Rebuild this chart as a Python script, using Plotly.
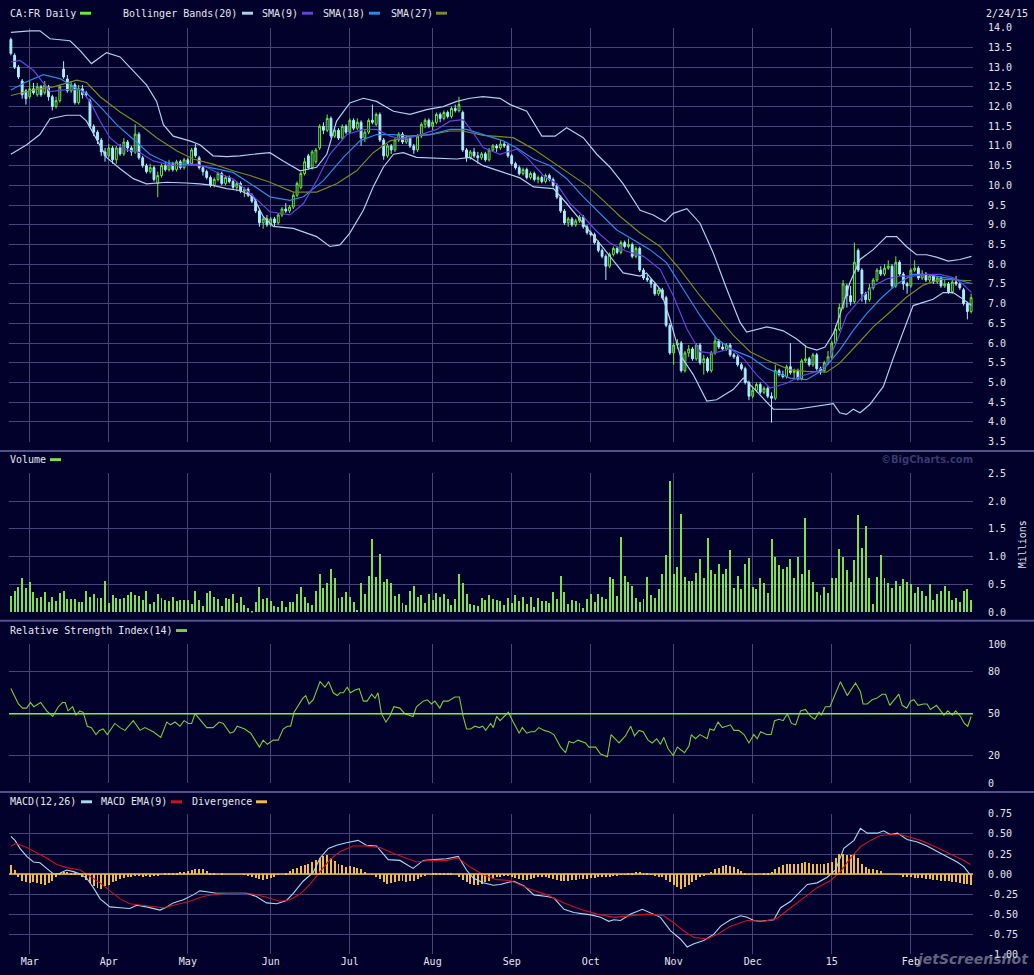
import plotly.graph_objects as go

# CA:FR (Carrefour) daily prices, 24 Feb 2014 - 24 Feb 2015, one entry per trading day
opens = [
    13.70, 13.30, 13.00, 12.65, 12.40, 12.25, 12.45, 12.30, 12.50, 12.35,
    12.50, 12.25, 12.00, 12.15, 12.95, 12.70, 12.40, 12.55, 12.10, 12.45,
    12.35, 12.15, 11.50, 11.35, 11.15, 10.85, 10.75, 10.95, 10.65, 10.95,
    10.80, 11.10, 10.95, 10.85, 11.30, 10.70, 10.50, 10.35, 10.45, 10.05,
    10.25, 10.50, 10.40, 10.55, 10.40, 10.60, 10.45, 10.65, 10.55, 10.95,
    10.70, 10.45, 10.35, 10.20, 10.00, 10.15, 10.30, 10.05, 10.20, 10.10,
    9.95, 10.05, 9.85, 9.90, 9.75, 9.60, 9.35, 9.05, 9.15, 9.00,
    9.15, 9.05, 9.25, 9.40, 9.35, 9.45, 9.75, 9.95, 10.30, 10.75,
    10.45, 10.60, 10.95, 11.50, 11.40, 11.70, 11.25, 11.40, 11.20, 11.50,
    11.35, 11.65, 11.45, 11.60, 11.20, 11.35, 11.65, 11.55, 11.80, 11.15,
    10.75, 11.00, 10.90, 11.15, 11.30, 11.10, 11.20, 11.00, 10.90, 11.25,
    11.55, 11.65, 11.50, 11.60, 11.80, 11.70, 11.85, 11.75, 11.95, 11.90,
    11.85, 10.90, 10.70, 10.85, 10.75, 10.70, 10.80, 10.65, 10.90, 11.00,
    10.95, 11.05, 11.00, 10.75, 10.55, 10.45, 10.30, 10.40, 10.20, 10.30,
    10.15, 10.20, 10.10, 10.25, 10.15, 10.00, 9.70, 9.35, 9.05, 9.15,
    9.00, 9.10, 9.20, 8.95, 8.80, 8.75, 8.55, 8.35, 8.20, 7.95,
    8.25, 8.40, 8.30, 8.55, 8.45, 8.50, 8.20, 8.40, 7.85, 7.65,
    7.60, 7.50, 7.25, 7.35, 7.15, 6.45, 5.75, 5.95, 6.00, 5.30,
    5.75, 5.85, 5.60, 5.95, 5.50, 5.60, 5.30, 5.75, 6.05, 5.90,
    5.85, 5.95, 5.70, 5.65, 5.45, 5.35, 5.00, 4.65, 4.80, 4.95,
    4.75, 4.85, 4.65, 4.60, 5.30, 5.20, 5.15, 5.40, 5.25, 5.30,
    5.10, 5.55, 5.60, 5.45, 5.70, 5.35, 5.30, 5.50, 5.65, 6.00,
    6.35, 6.90, 7.45, 7.20, 7.05, 8.35, 7.85, 7.25, 7.10, 7.40,
    7.60, 7.85, 7.75, 7.90, 7.95, 7.45, 8.05, 7.75, 7.50, 7.45,
    7.85, 7.90, 7.65, 7.75, 7.60, 7.70, 7.55, 7.65, 7.45, 7.50,
    7.30, 7.55, 7.50, 7.35, 7.00, 6.80,
]
highs = [
    13.75, 13.35, 13.05, 12.70, 12.45, 12.65, 12.60, 12.60, 12.55, 12.65,
    12.55, 12.30, 12.25, 12.55, 13.15, 12.80, 12.65, 12.60, 12.55, 12.55,
    12.40, 12.20, 11.55, 11.40, 11.20, 10.95, 11.05, 11.00, 11.00, 11.05,
    11.20, 11.15, 11.00, 11.55, 11.35, 10.75, 10.55, 10.55, 10.50, 10.35,
    10.55, 10.60, 10.65, 10.60, 10.65, 10.65, 10.70, 10.70, 10.95, 11.05,
    10.75, 10.50, 10.40, 10.25, 10.20, 10.35, 10.35, 10.25, 10.25, 10.15,
    10.10, 10.10, 9.95, 9.95, 9.80, 9.65, 9.40, 9.20, 9.25, 9.20,
    9.20, 9.30, 9.45, 9.55, 9.50, 9.80, 10.10, 10.35, 10.70, 10.80,
    10.90, 10.95, 11.55, 11.60, 11.80, 11.75, 11.45, 11.45, 11.55, 11.55,
    11.70, 11.70, 11.70, 11.65, 11.40, 11.70, 12.05, 11.85, 11.85, 11.20,
    11.05, 11.05, 11.20, 11.35, 11.35, 11.25, 11.25, 11.05, 11.30, 11.60,
    11.70, 11.70, 11.65, 11.85, 11.85, 11.90, 11.90, 12.00, 12.05, 12.25,
    11.90, 10.95, 10.90, 10.95, 10.85, 10.85, 10.85, 10.95, 11.05, 11.05,
    11.15, 11.10, 11.05, 10.80, 10.60, 10.50, 10.45, 10.45, 10.35, 10.35,
    10.25, 10.25, 10.30, 10.30, 10.20, 10.05, 9.75, 9.40, 9.20, 9.20,
    9.15, 9.25, 9.25, 9.00, 8.85, 8.80, 8.60, 8.40, 8.25, 8.30,
    8.45, 8.45, 8.60, 8.60, 8.65, 8.55, 8.45, 8.45, 7.90, 7.75,
    7.65, 7.55, 7.40, 7.40, 7.20, 6.50, 6.00, 6.10, 6.05, 5.80,
    5.95, 5.90, 6.00, 6.00, 5.70, 5.65, 5.80, 6.15, 6.10, 6.00,
    6.00, 6.00, 5.75, 5.70, 5.50, 5.40, 5.05, 4.90, 5.00, 5.00,
    4.90, 4.90, 4.75, 5.45, 5.35, 5.30, 5.45, 6.00, 5.35, 5.35,
    5.60, 5.95, 5.65, 5.75, 5.75, 5.40, 5.55, 5.80, 6.05, 6.45,
    7.00, 7.60, 7.50, 7.45, 8.55, 8.40, 7.90, 7.30, 7.50, 7.65,
    7.90, 7.95, 8.00, 8.10, 8.00, 8.20, 8.10, 7.80, 7.55, 7.90,
    8.10, 7.95, 7.85, 7.80, 7.75, 7.75, 7.70, 7.70, 7.60, 7.55,
    7.60, 7.70, 7.55, 7.40, 7.05, 7.25,
]
lows = [
    13.30, 12.95, 12.70, 12.20, 12.05, 12.20, 12.30, 12.25, 12.25, 12.30,
    12.15, 11.90, 11.95, 12.10, 12.70, 12.35, 12.35, 12.05, 12.05, 12.20,
    12.25, 11.45, 11.25, 11.05, 10.75, 10.60, 10.70, 10.55, 10.55, 10.75,
    10.75, 10.85, 10.75, 10.80, 10.65, 10.45, 10.30, 10.30, 10.10, 9.70,
    10.20, 10.35, 10.35, 10.35, 10.35, 10.40, 10.40, 10.50, 10.50, 10.70,
    10.40, 10.25, 10.15, 9.95, 9.95, 10.10, 10.00, 10.00, 10.05, 9.90,
    9.85, 9.80, 9.70, 9.70, 9.55, 9.30, 8.95, 8.90, 8.95, 8.95,
    8.95, 9.00, 9.20, 9.30, 9.30, 9.40, 9.70, 9.90, 10.25, 10.40,
    10.40, 10.55, 10.90, 11.30, 11.35, 11.20, 11.20, 11.15, 11.15, 11.30,
    11.30, 11.40, 11.40, 11.00, 11.10, 11.30, 11.55, 11.50, 11.10, 10.65,
    10.70, 10.80, 10.85, 11.10, 11.05, 11.05, 10.95, 10.80, 10.85, 11.20,
    11.45, 11.45, 11.40, 11.55, 11.60, 11.65, 11.70, 11.70, 11.85, 11.85,
    10.85, 10.60, 10.65, 10.70, 10.55, 10.65, 10.60, 10.60, 10.85, 10.85,
    10.90, 10.95, 10.70, 10.50, 10.40, 10.25, 10.25, 10.15, 10.15, 10.10,
    10.05, 10.05, 10.05, 10.10, 9.95, 9.65, 9.30, 9.00, 8.95, 8.95,
    8.95, 9.05, 8.90, 8.75, 8.70, 8.50, 8.30, 8.15, 7.60, 7.90,
    8.20, 8.25, 8.25, 8.40, 8.40, 8.15, 8.15, 7.80, 7.60, 7.55,
    7.40, 7.20, 7.20, 7.10, 6.40, 5.70, 5.45, 5.85, 5.25, 5.25,
    5.65, 5.55, 5.55, 5.45, 5.20, 5.25, 5.25, 5.70, 5.85, 5.80,
    5.80, 5.65, 5.60, 5.40, 5.30, 4.95, 4.55, 4.60, 4.75, 4.70,
    4.70, 4.60, 3.98, 4.55, 5.15, 5.10, 5.10, 5.20, 5.10, 5.05,
    5.05, 5.50, 5.40, 5.40, 5.30, 5.20, 5.25, 5.45, 5.60, 5.95,
    6.30, 6.85, 6.90, 6.95, 7.00, 7.80, 7.05, 7.00, 7.05, 7.35,
    7.55, 7.70, 7.70, 7.85, 7.40, 7.40, 7.70, 7.35, 7.25, 7.40,
    7.80, 7.60, 7.60, 7.55, 7.55, 7.50, 7.50, 7.40, 7.40, 7.25,
    7.25, 7.45, 7.35, 6.95, 6.60, 6.75,
]
closes = [
    13.35, 13.00, 12.75, 12.30, 12.20, 12.45, 12.35, 12.50, 12.30, 12.55,
    12.25, 12.00, 12.15, 12.50, 12.75, 12.40, 12.55, 12.10, 12.45, 12.30,
    12.30, 11.50, 11.35, 11.15, 10.85, 10.75, 10.95, 10.65, 10.95, 10.80,
    11.10, 10.95, 10.85, 11.30, 10.70, 10.50, 10.35, 10.45, 10.15, 10.25,
    10.50, 10.40, 10.55, 10.40, 10.60, 10.45, 10.65, 10.55, 10.90, 10.75,
    10.45, 10.35, 10.20, 10.00, 10.15, 10.30, 10.05, 10.20, 10.10, 9.95,
    10.05, 9.85, 9.90, 9.75, 9.60, 9.35, 9.05, 9.15, 9.00, 9.15,
    9.05, 9.25, 9.40, 9.35, 9.45, 9.75, 10.05, 10.30, 10.60, 10.45,
    10.85, 10.90, 11.50, 11.40, 11.70, 11.25, 11.40, 11.20, 11.50, 11.35,
    11.65, 11.45, 11.60, 11.20, 11.35, 11.65, 11.60, 11.80, 11.15, 10.75,
    11.00, 10.90, 11.15, 11.30, 11.10, 11.20, 11.00, 10.90, 11.25, 11.55,
    11.65, 11.50, 11.60, 11.80, 11.70, 11.85, 11.75, 11.95, 11.90, 12.05,
    10.90, 10.70, 10.85, 10.75, 10.70, 10.80, 10.65, 10.90, 11.00, 10.95,
    11.05, 11.00, 10.75, 10.55, 10.45, 10.30, 10.40, 10.20, 10.30, 10.15,
    10.20, 10.10, 10.25, 10.15, 10.00, 9.70, 9.35, 9.05, 9.15, 9.00,
    9.10, 9.20, 8.95, 8.80, 8.75, 8.55, 8.35, 8.20, 7.95, 8.25,
    8.40, 8.30, 8.55, 8.45, 8.50, 8.20, 8.40, 7.85, 7.65, 7.60,
    7.50, 7.25, 7.35, 7.15, 6.45, 5.75, 5.95, 6.00, 5.30, 5.75,
    5.85, 5.60, 5.95, 5.50, 5.60, 5.30, 5.75, 6.05, 5.90, 5.85,
    5.95, 5.70, 5.65, 5.45, 5.35, 5.00, 4.65, 4.80, 4.95, 4.75,
    4.85, 4.65, 4.60, 5.30, 5.20, 5.15, 5.40, 5.25, 5.30, 5.10,
    5.55, 5.60, 5.45, 5.70, 5.35, 5.30, 5.50, 5.65, 6.00, 6.35,
    6.90, 7.50, 7.20, 7.05, 8.05, 7.85, 7.25, 7.10, 7.40, 7.60,
    7.85, 7.75, 7.90, 7.95, 7.45, 8.05, 7.75, 7.50, 7.45, 7.85,
    7.90, 7.65, 7.75, 7.60, 7.70, 7.55, 7.65, 7.45, 7.50, 7.30,
    7.55, 7.50, 7.40, 7.00, 6.80, 7.15,
]

# volume in millions of shares
volume_m = [
    0.29, 0.39, 0.45, 0.62, 0.43, 0.55, 0.36, 0.25, 0.28, 0.36,
    0.18, 0.27, 0.20, 0.34, 0.39, 0.24, 0.24, 0.24, 0.18, 0.18,
    0.39, 0.27, 0.32, 0.25, 0.25, 0.57, 0.16, 0.31, 0.25, 0.24,
    0.25, 0.31, 0.36, 0.31, 0.29, 0.22, 0.38, 0.15, 0.18, 0.32,
    0.25, 0.22, 0.20, 0.27, 0.20, 0.22, 0.22, 0.22, 0.15, 0.38,
    0.22, 0.11, 0.34, 0.38, 0.27, 0.24, 0.11, 0.25, 0.24, 0.32,
    0.16, 0.27, 0.13, 0.08, 0.01, 0.18, 0.45, 0.24, 0.25, 0.20,
    0.11, 0.09, 0.20, 0.09, 0.18, 0.18, 0.32, 0.45, 0.27, 0.16,
    0.13, 0.38, 0.68, 0.43, 0.52, 0.78, 0.62, 0.25, 0.27, 0.36,
    0.27, 0.18, 0.04, 0.52, 0.32, 0.66, 1.31, 0.64, 1.05, 0.55,
    0.59, 0.52, 0.29, 0.32, 0.16, 0.13, 0.38, 0.47, 0.27, 0.31,
    0.16, 0.32, 0.22, 0.34, 0.27, 0.32, 0.24, 0.13, 0.24, 0.69,
    0.52, 0.32, 0.15, 0.13, 0.11, 0.25, 0.22, 0.31, 0.24, 0.22,
    0.20, 0.13, 0.25, 0.16, 0.31, 0.20, 0.27, 0.15, 0.27, 0.09,
    0.25, 0.20, 0.20, 0.16, 0.36, 0.24, 0.66, 0.36, 0.15, 0.22,
    0.20, 0.16, 0.08, 0.24, 0.32, 0.18, 0.32, 0.27, 0.24, 0.64,
    0.59, 0.29, 1.35, 0.66, 0.55, 0.47, 0.25, 0.18, 0.24, 0.64,
    0.31, 0.25, 0.41, 0.68, 1.02, 2.36, 0.69, 0.82, 1.77, 0.64,
    0.57, 0.57, 0.71, 0.96, 0.62, 1.33, 0.75, 0.69, 0.87, 0.68,
    0.77, 1.12, 0.43, 0.66, 0.41, 0.87, 0.98, 0.45, 0.41, 0.62,
    0.52, 0.34, 1.31, 1.00, 0.85, 0.78, 0.82, 0.96, 0.62, 1.00,
    0.69, 1.70, 0.75, 0.54, 0.36, 0.31, 0.45, 0.34, 0.61, 0.62,
    1.14, 1.00, 0.75, 0.54, 0.94, 1.74, 1.15, 1.54, 0.62, 0.15,
    0.64, 1.03, 0.62, 0.52, 0.43, 0.57, 0.48, 0.59, 0.55, 0.50,
    0.34, 0.45, 0.38, 0.29, 0.50, 0.22, 0.32, 0.38, 0.48, 0.39,
    0.22, 0.25, 0.18, 0.38, 0.41, 0.22,
]

# MACD divergence histogram, one bar per trading day
divergence = [
    0.11, 0.05, -0.03, -0.08, -0.10, -0.11, -0.10, -0.11, -0.12, -0.13,
    -0.11, -0.08, -0.04, 0.02, 0.03, 0.03, 0.02, 0.01, -0.01, -0.03,
    -0.07, -0.11, -0.15, -0.17, -0.18, -0.15, -0.13, -0.10, -0.08, -0.06,
    -0.05, -0.03, -0.03, -0.02, -0.02, -0.03, -0.02, -0.03, -0.02, -0.02,
    0.00, 0.01, 0.02, 0.02, 0.02, 0.03, 0.03, 0.04, 0.05, 0.06,
    0.07, 0.06, 0.04, 0.02, 0.01, 0.00, 0.01, 0.00, 0.00, 0.00,
    0.00, 0.00, -0.01, -0.02, -0.03, -0.05, -0.06, -0.07, -0.06, -0.05,
    -0.03, -0.01, 0.00, 0.02, 0.04, 0.06, 0.08, 0.10, 0.11, 0.13,
    0.15, 0.18, 0.20, 0.22, 0.24, 0.20, 0.16, 0.13, 0.11, 0.09,
    0.10, 0.09, 0.08, 0.06, 0.03, 0.00, -0.01, -0.03, -0.06, -0.10,
    -0.12, -0.11, -0.10, -0.09, -0.09, -0.10, -0.09, -0.08, -0.06, -0.04,
    -0.02, 0.00, 0.01, 0.01, 0.02, 0.02, 0.02, 0.01, 0.00, -0.03,
    -0.07, -0.10, -0.12, -0.13, -0.13, -0.12, -0.10, -0.08, -0.06, -0.04,
    -0.03, -0.02, -0.02, -0.03, -0.05, -0.06, -0.07, -0.07, -0.06, -0.05,
    -0.04, -0.03, -0.03, -0.05, -0.06, -0.07, -0.08, -0.08, -0.08, -0.07,
    -0.07, -0.06, -0.06, -0.06, -0.05, -0.05, -0.04, -0.04, -0.03, -0.03,
    -0.02, -0.02, -0.01, -0.01, 0.01, 0.02, 0.03, 0.03, 0.02, 0.01,
    -0.01, -0.02, -0.03, -0.04, -0.07, -0.10, -0.13, -0.16, -0.18, -0.16,
    -0.13, -0.10, -0.07, -0.04, -0.02, 0.00, 0.03, 0.06, 0.08, 0.10,
    0.11, 0.10, 0.09, 0.06, 0.04, 0.01, -0.01, 0.00, -0.01, 0.00,
    0.01, 0.02, 0.03, 0.06, 0.09, 0.11, 0.13, 0.13, 0.12, 0.13,
    0.14, 0.15, 0.14, 0.13, 0.12, 0.12, 0.13, 0.14, 0.15, 0.20,
    0.25, 0.25, 0.24, 0.24, 0.25, 0.20, 0.13, 0.09, 0.07, 0.06,
    0.05, 0.04, 0.00, 0.00, 0.00, 0.00, -0.01, -0.03, -0.04, -0.04,
    -0.05, -0.05, -0.05, -0.06, -0.06, -0.07, -0.07, -0.08, -0.08, -0.09,
    -0.10, -0.10, -0.11, -0.12, -0.12, -0.13,
]

# indicator lines: trading-day index and value
bb_upper_day = [0, 5.1, 7.7, 10.4, 15.7, 18.4, 21.4, 23.7, 25.4, 29.0,
                33.4, 36.0, 38.7, 40.5, 43.1, 47.5, 50.2, 53.7, 57.3, 60.8,
                64.4, 68.8, 72.3, 76.8, 81.2, 83.9, 86.5, 90.0, 93.6, 97.1,
                101.6, 106.0, 110.4, 114.8, 118.4, 121.9, 125.4, 129.9, 132.6, 137.0,
                141.0, 144.5, 147.6, 152.0, 155.6, 159.1, 162.6, 167.1, 170.6, 173.7,
                175.9, 179.5, 183.0, 186.5, 190.1, 193.6, 195.4, 200.7, 202.4, 205.1,
                208.6, 211.3, 214.0, 216.2, 218.4, 220.1, 222.8, 225.5, 229.0, 232.5,
                235.2, 237.8, 240.5, 243.2, 245.8, 248.9, 252.0, 255.1]
bb_upper = [13.88, 13.92, 13.92, 13.72, 13.67, 13.42, 13.09, 13.26, 13.37, 13.26,
            12.80, 12.55, 12.13, 11.54, 11.25, 11.13, 11.03, 10.75, 10.73, 10.75,
            10.79, 10.83, 10.62, 10.37, 10.46, 10.79, 11.63, 12.09, 12.21, 12.13,
            11.88, 11.80, 11.92, 12.00, 12.13, 12.21, 12.25, 12.21, 12.05, 11.88,
            11.25, 11.25, 11.46, 11.21, 10.79, 10.46, 10.04, 9.37, 9.25, 9.08,
            9.29, 9.41, 9.04, 8.29, 7.37, 6.53, 6.28, 6.41, 6.38, 6.31,
            6.11, 5.90, 5.82, 5.90, 6.24, 6.70, 7.53, 8.12, 8.37, 8.70,
            8.70, 8.45, 8.24, 8.24, 8.18, 8.08, 8.12, 8.20]

bb_lower_day = [0, 4.2, 7.7, 10.4, 14.8, 18.4, 20.1, 22.8, 25.4, 29.0,
                32.5, 36.0, 39.6, 41.4, 46.6, 50.2, 53.7, 57.3, 60.8, 64.4,
                67.0, 69.7, 75.0, 81.2, 84.7, 87.4, 90.0, 93.6, 96.2, 98.9,
                101.6, 104.2, 107.7, 113.1, 118.4, 121.9, 125.4, 130.8, 135.2, 138.8,
                144.1, 147.6, 152.0, 155.6, 159.1, 162.6, 167.1, 168.8, 172.4, 175.0,
                177.7, 181.2, 184.8, 187.4, 191.8, 194.5, 198.0, 202.5, 208.6, 214.0,
                218.4, 220.1, 221.9, 223.7, 225.5, 228.1, 231.7, 234.3, 237.0, 239.6,
                242.3, 244.9, 247.6, 250.2, 252.9, 255.1]
bb_lower = [10.79, 11.03, 11.29, 11.69, 11.78, 11.78, 11.63, 11.17, 10.71, 10.42,
            10.17, 10.04, 10.06, 10.08, 10.06, 10.04, 10.00, 9.92, 9.87, 9.71,
            9.21, 8.96, 8.91, 8.70, 8.45, 8.49, 8.79, 9.37, 9.96, 10.46,
            10.79, 10.83, 10.71, 10.69, 10.67, 10.71, 10.50, 10.33, 10.19, 9.96,
            9.92, 9.54, 9.04, 8.62, 8.20, 7.78, 7.70, 7.78, 7.37, 6.61,
            5.70, 5.20, 4.53, 4.56, 4.82, 5.11, 4.78, 4.32, 4.32, 4.40,
            4.46, 4.23, 4.19, 4.32, 4.23, 4.44, 4.90, 5.61, 6.32, 6.95,
            7.03, 7.11, 7.28, 7.28, 7.11, 6.95]

sma9_day = [0, 2.4, 6.0, 10.4, 14.8, 18.4, 21.0, 23.7, 26.3, 29.9,
            34.3, 37.8, 41.4, 44.9, 49.3, 52.0, 55.5, 59.0, 63.5, 68.8,
            74.1, 77.7, 81.2, 84.7, 89.2, 93.6, 97.1, 100.7, 104.2, 107.7,
            113.1, 116.6, 120.1, 122.8, 125.4, 129.9, 134.3, 137.0, 141.4, 144.9,
            148.5, 152.0, 155.6, 159.1, 163.5, 168.0, 172.4, 175.9, 179.5, 183.0,
            186.5, 191.0, 194.5, 198.0, 201.6, 206.0, 209.5, 214.0, 216.6, 219.3,
            221.9, 225.5, 229.0, 232.5, 236.1, 239.6, 243.2, 246.7, 250.2, 252.9,
            255.1]
sma9 = [13.13, 13.17, 12.92, 12.38, 12.43, 12.43, 12.13, 11.63, 11.21, 10.92,
        10.83, 10.62, 10.54, 10.49, 10.54, 10.46, 10.29, 10.17, 9.80, 9.33,
        9.25, 9.54, 10.12, 10.79, 11.29, 11.42, 11.42, 11.25, 11.17, 11.25,
        11.42, 11.63, 11.67, 11.33, 10.96, 10.79, 10.92, 10.71, 10.25, 10.04,
        9.54, 9.21, 8.83, 8.54, 8.33, 8.20, 7.87, 7.20, 6.36, 5.78,
        5.74, 5.86, 5.61, 5.20, 4.86, 4.98, 5.15, 5.28, 5.45, 6.03,
        6.70, 7.11, 7.45, 7.62, 7.70, 7.70, 7.74, 7.74, 7.66, 7.49,
        7.28]

sma18_day = [0, 4.2, 8.6, 13.0, 17.5, 20.1, 23.7, 28.1, 32.5, 36.9,
             41.4, 45.8, 50.2, 54.6, 59.0, 63.5, 68.8, 74.1, 77.7, 83.0,
             88.3, 92.7, 97.1, 101.6, 106.0, 111.3, 116.6, 121.0, 125.4, 130.8,
             134.3, 138.8, 143.2, 147.6, 152.0, 156.5, 160.9, 165.3, 169.7, 174.1,
             178.6, 183.0, 187.4, 191.8, 196.3, 200.7, 206.9, 211.3, 215.7, 220.1,
             223.7, 227.2, 230.8, 235.2, 239.6, 243.2, 246.7, 250.2, 255.1]
sma18 = [12.42, 12.63, 12.81, 12.71, 12.46, 12.34, 12.00, 11.54, 11.17, 10.79,
         10.58, 10.54, 10.50, 10.42, 10.33, 10.05, 9.71, 9.62, 9.71, 10.12,
         10.71, 11.13, 11.29, 11.29, 11.25, 11.29, 11.42, 11.42, 11.29, 11.13,
         10.95, 10.67, 10.50, 10.17, 9.71, 9.29, 8.87, 8.62, 8.37, 8.04,
         7.37, 6.70, 6.11, 5.82, 5.65, 5.36, 5.11, 5.07, 5.32, 5.82,
         6.32, 6.74, 7.11, 7.49, 7.74, 7.74, 7.68, 7.63, 7.51]

sma27_day = [0, 6.0, 11.3, 17.5, 20.1, 23.7, 29.0, 34.3, 38.7, 44.0,
             48.4, 53.7, 59.0, 63.5, 68.8, 75.0, 81.2, 86.5, 91.8, 96.2,
             100.7, 106.0, 111.3, 116.6, 120.1, 125.4, 130.8, 133.4, 138.8, 144.1,
             148.5, 152.9, 157.3, 161.8, 167.1, 172.4, 177.7, 183.0, 187.4, 191.8,
             196.3, 200.7, 206.9, 211.3, 216.6, 220.1, 224.6, 229.0, 233.4, 237.8,
             242.3, 246.7, 251.1, 255.1]
sma27 = [12.28, 12.42, 12.50, 12.67, 12.61, 12.25, 11.86, 11.54, 11.21, 10.88,
         10.67, 10.54, 10.37, 10.25, 10.08, 9.83, 9.83, 10.04, 10.37, 10.83,
         11.13, 11.25, 11.29, 11.38, 11.38, 11.27, 11.23, 11.21, 10.92, 10.58,
         10.29, 10.00, 9.62, 9.21, 8.79, 8.45, 7.87, 7.20, 6.70, 6.20,
         5.78, 5.57, 5.32, 5.28, 5.26, 5.49, 5.95, 6.41, 6.78, 7.16,
         7.47, 7.62, 7.60, 7.58]

rsi_day = [0, 2.0, 3.1, 4.2, 5.2, 6.1, 7.9, 9.5, 11.1, 12.6,
           13.7, 14.4, 15.2, 16.4, 17.3, 18.3, 19.2, 20.3, 21.4, 22.6,
           23.5, 24.5, 25.6, 27.6, 29.0, 30.3, 32.5, 34.3, 35.6, 37.8,
           39.8, 41.4, 42.4, 43.6, 44.9, 46.0, 47.2, 48.0, 48.9, 50.2,
           52.0, 53.7, 55.3, 56.4, 58.2, 59.2, 60.1, 62.1, 63.7, 66.0,
           67.0, 68.1, 69.7, 71.0, 72.3, 73.4, 74.3, 75.2, 76.3, 77.5,
           78.3, 79.2, 80.3, 82.1, 83.4, 84.4, 85.6, 86.7, 87.4, 88.3,
           89.3, 90.2, 91.4, 92.5, 93.6, 94.6, 95.8, 96.7, 97.5, 98.4,
           99.6, 100.6, 101.7, 103.3, 104.6, 106.8, 107.7, 109.5, 110.6, 111.7,
           112.6, 113.9, 114.8, 116.1, 117.9, 119.1, 120.1, 121.0, 122.1, 123.2,
           124.4, 125.3, 126.1, 127.4, 128.1, 129.0, 129.9, 132.1, 133.4, 135.0,
           135.8, 137.0, 138.0, 139.1, 140.2, 141.6, 142.9, 144.2, 146.0, 147.3,
           148.2, 149.4, 150.6, 152.6, 153.5, 155.3, 156.6, 158.4, 159.4, 161.5,
           163.2, 164.6, 165.6, 166.8, 167.9, 169.2, 170.3, 171.5, 172.5, 173.4,
           174.5, 175.9, 177.0, 178.9, 180.1, 180.7, 181.8, 183.0, 184.9, 185.6,
           186.7, 187.8, 188.9, 191.1, 192.0, 193.3, 194.7, 196.0, 197.3, 198.2,
           199.1, 200.7, 201.9, 202.8, 204.0, 205.1, 206.2, 207.3, 208.4, 209.7,
           211.0, 212.4, 213.5, 214.6, 215.2, 216.3, 217.5, 219.0, 220.3, 222.1,
           224.3, 225.6, 226.3, 227.4, 228.7, 229.9, 231.4, 232.3, 233.4, 235.8,
           236.7, 237.9, 238.9, 239.8, 240.9, 242.3, 243.3, 244.2, 245.8, 247.8,
           248.8, 250.0, 250.9, 252.2, 253.2, 254.1, 255.0]
rsi = [68, 57, 54, 54, 58, 55, 58, 52, 48, 55,
       58, 58, 52, 55, 49, 52, 51, 41, 40, 35,
       38, 39, 35, 43, 40, 38, 45, 38, 40, 37,
       33, 44, 42, 44, 41, 45, 43, 43, 50, 46,
       40, 40, 44, 43, 36, 37, 41, 39, 36, 26,
       31, 28, 31, 31, 39, 41, 41, 51, 56, 61,
       63, 57, 60, 73, 69, 73, 65, 63, 65, 65,
       69, 65, 67, 68, 59, 59, 64, 61, 65, 50,
       44, 48, 55, 54, 50, 48, 55, 59, 60, 57,
       59, 54, 59, 59, 62, 62, 48, 39, 39, 41,
       40, 41, 38, 43, 40, 48, 45, 51, 44, 36,
       40, 36, 37, 37, 40, 38, 37, 35, 26, 22,
       30, 29, 31, 29, 26, 26, 21, 19, 35, 29,
       34, 41, 34, 38, 37, 31, 29, 32, 28, 33,
       25, 20, 26, 22, 27, 35, 32, 35, 32, 39,
       38, 44, 40, 42, 38, 38, 35, 29, 35, 32,
       37, 35, 35, 45, 46, 45, 50, 43, 42, 52,
       53, 48, 46, 51, 49, 55, 55, 64, 73, 63,
       72, 66, 57, 57, 60, 61, 64, 64, 56, 64,
       56, 54, 59, 60, 56, 57, 57, 53, 56, 49,
       52, 49, 52, 48, 43, 41, 48]

macd_day = [0, 1.1, 2.4, 4.2, 6.0, 7.7, 9.5, 11.3, 13.0, 14.8,
            16.6, 18.4, 20.1, 21.9, 23.7, 26.3, 29.0, 31.6, 33.4, 36.0,
            39.6, 41.4, 43.1, 45.8, 48.4, 50.2, 52.0, 54.6, 57.3, 59.0,
            62.6, 65.2, 67.9, 70.6, 73.2, 75.0, 77.6, 80.3, 82.1, 84.3,
            86.5, 89.1, 92.2, 94.4, 97.1, 100.2, 103.3, 106.8, 109.5, 112.1,
            115.7, 118.8, 121.0, 122.8, 125.4, 128.1, 129.9, 132.5, 133.6, 136.3,
            138.9, 142.4, 144.2, 146.9, 149.5, 154.0, 156.6, 158.8, 160.1, 161.9,
            164.6, 167.7, 170.8, 172.5, 175.2, 177.8, 179.6, 181.4, 184.0, 186.7,
            188.5, 191.1, 193.8, 195.5, 197.3, 199.1, 202.6, 204.4, 207.1, 209.7,
            211.5, 214.1, 216.8, 219.0, 221.2, 223.9, 225.6, 227.4, 230.1, 231.8,
            233.6, 235.4, 238.0, 240.7, 243.3, 246.0, 248.6, 251.3, 253.1, 254.8]
macd = [0.47, 0.42, 0.32, 0.22, 0.15, 0.14, 0.07, 0.00, 0.01, 0.05,
        0.03, 0.00, -0.05, -0.17, -0.31, -0.41, -0.42, -0.43, -0.39, -0.41,
        -0.45, -0.41, -0.36, -0.32, -0.26, -0.21, -0.22, -0.24, -0.24, -0.24,
        -0.24, -0.28, -0.36, -0.37, -0.33, -0.24, -0.09, 0.02, 0.20, 0.32,
        0.36, 0.39, 0.42, 0.36, 0.35, 0.18, 0.17, 0.07, 0.17, 0.18,
        0.19, 0.22, 0.05, -0.05, -0.11, -0.14, -0.13, -0.10, -0.09, -0.15,
        -0.26, -0.28, -0.30, -0.44, -0.48, -0.51, -0.54, -0.59, -0.57, -0.58,
        -0.50, -0.44, -0.50, -0.54, -0.71, -0.81, -0.91, -0.87, -0.83, -0.75,
        -0.65, -0.57, -0.52, -0.54, -0.58, -0.59, -0.57, -0.42, -0.34, -0.21,
        -0.13, -0.11, -0.04, 0.05, 0.32, 0.42, 0.57, 0.51, 0.51, 0.54,
        0.49, 0.51, 0.43, 0.40, 0.35, 0.28, 0.22, 0.15, 0.09, -0.01]

ema_day = [0, 1.5, 4.2, 6.8, 9.5, 12.2, 14.8, 18.4, 21.0, 23.7,
           26.3, 29.0, 31.6, 35.2, 37.8, 40.5, 44.0, 47.5, 51.1, 54.6,
           59.0, 64.4, 67.9, 71.4, 74.1, 76.8, 79.4, 82.1, 84.7, 87.4,
           90.9, 94.4, 98.0, 101.5, 105.1, 107.7, 111.3, 115.7, 118.8, 121.9,
           125.4, 129.0, 132.5, 138.0, 142.4, 146.9, 151.3, 155.7, 160.1, 164.6,
           169.0, 173.4, 176.1, 178.7, 181.4, 184.9, 187.6, 191.1, 195.5, 200.0,
           203.5, 207.1, 210.6, 214.1, 217.7, 220.3, 223.0, 225.6, 228.3, 230.9,
           233.6, 236.3, 238.9, 241.6, 245.1, 247.8, 250.4, 253.1, 254.8]
macd_ema = [0.35, 0.38, 0.33, 0.27, 0.20, 0.12, 0.08, 0.05, -0.03, -0.11,
            -0.21, -0.31, -0.37, -0.39, -0.40, -0.42, -0.38, -0.34, -0.28, -0.25,
            -0.24, -0.25, -0.29, -0.34, -0.32, -0.25, -0.13, 0.03, 0.18, 0.28,
            0.35, 0.35, 0.33, 0.26, 0.20, 0.15, 0.17, 0.17, 0.20, 0.09,
            -0.01, -0.07, -0.08, -0.19, -0.26, -0.36, -0.44, -0.50, -0.54, -0.52,
            -0.50, -0.52, -0.61, -0.71, -0.79, -0.81, -0.75, -0.65, -0.58, -0.59,
            -0.55, -0.42, -0.29, -0.17, -0.08, 0.03, 0.20, 0.34, 0.42, 0.48,
            0.49, 0.49, 0.46, 0.42, 0.35, 0.29, 0.23, 0.17, 0.12]

# x axis: month starts (trading-day index) and their labels
month_days = [5, 26, 47, 69, 90, 112, 133, 154, 176, 197, 218, 239]
month_labels = ['Mar', 'Apr', 'May', 'Jun', 'Jul', 'Aug', 'Sep', 'Oct', 'Nov', 'Dec', '15', 'Feb']

price_ticks = [3.5, 4.0, 4.5, 5.0, 5.5, 6.0, 6.5, 7.0, 7.5, 8.0, 8.5,
               9.0, 9.5, 10.0, 10.5, 11.0, 11.5, 12.0, 12.5, 13.0, 13.5, 14.0]
price_labels = ['3.5', '4.0', '4.5', '5.0', '5.5', '6.0', '6.5', '7.0', '7.5', '8.0', '8.5',
                '9.0', '9.5', '10.0', '10.5', '11.0', '11.5', '12.0', '12.5', '13.0', '13.5', '14.0']
volume_ticks = [0.0, 0.5, 1.0, 1.5, 2.0, 2.5]
volume_labels = ['0.0', '0.5', '1.0', '1.5', '2.0', '2.5']
rsi_ticks = [0, 20, 50, 80, 100]
rsi_labels = ['0', '20', '50', '80', '100']
macd_ticks = [-1.0, -0.75, -0.5, -0.25, 0.0, 0.25, 0.5, 0.75]
macd_labels = ['-1.00', '-0.75', '-0.50', '-0.25', '0.00', '0.25', '0.50', '0.75']

days = list(range(len(closes)))

# colours
BG = '#01012c'
GRID = '#45457a'
TEXT = '#e6e6ee'
UP = '#66ee33'
DOWN = '#aaeeff'
BAND = '#b0d0ee'
SMA9_C = '#6a3fe0'
SMA18_C = '#2a8ae6'
SMA27_C = '#7c8a1e'
VOL_C = '#7ee04a'
RSI_C = '#7acc38'
MACD_C = '#a9d9f5'
EMA_C = '#d01020'
DIV_C = '#f2bc40'

W, H = 1034, 975


def px(x):
    return x / W


def py(y):
    return 1 - y / H


fig = go.Figure()

# price panel
fig.add_trace(go.Scatter(x=bb_upper_day, y=bb_upper, mode='lines', line=dict(color=BAND, width=1.2), xaxis='x', yaxis='y'))
fig.add_trace(go.Scatter(x=bb_lower_day, y=bb_lower, mode='lines', line=dict(color=BAND, width=1.2), xaxis='x', yaxis='y'))
fig.add_trace(go.Scatter(x=sma27_day, y=sma27, mode='lines', line=dict(color=SMA27_C, width=1.2), xaxis='x', yaxis='y'))
fig.add_trace(go.Scatter(x=sma18_day, y=sma18, mode='lines', line=dict(color=SMA18_C, width=1.2), xaxis='x', yaxis='y'))
fig.add_trace(go.Scatter(x=sma9_day, y=sma9, mode='lines', line=dict(color=SMA9_C, width=1.2), xaxis='x', yaxis='y'))
fig.add_trace(go.Candlestick(
    x=days, open=opens, high=highs, low=lows, close=closes,
    increasing=dict(line=dict(color=UP, width=1), fillcolor='rgba(0,0,0,0)'),
    decreasing=dict(line=dict(color=DOWN, width=1), fillcolor=DOWN),
    whiskerwidth=0, xaxis='x', yaxis='y'))

# volume panel
fig.add_trace(go.Bar(x=days, y=volume_m, width=0.26, marker=dict(color=VOL_C, line=dict(width=0)),
                     xaxis='x2', yaxis='y2'))

# RSI panel
fig.add_trace(go.Scatter(x=rsi_day, y=rsi, mode='lines', line=dict(color=RSI_C, width=1.1),
                         xaxis='x3', yaxis='y3'))

# MACD panel
fig.add_trace(go.Bar(x=days, y=divergence, width=0.26, marker=dict(color=DIV_C, line=dict(width=0)),
                     xaxis='x4', yaxis='y4'))
fig.add_trace(go.Scatter(x=macd_day, y=macd, mode='lines', line=dict(color=MACD_C, width=1.1),
                         xaxis='x4', yaxis='y4'))
fig.add_trace(go.Scatter(x=ema_day, y=macd_ema, mode='lines', line=dict(color=EMA_C, width=1.1),
                         xaxis='x4', yaxis='y4'))

x_dom = [px(9), px(973)]
x_range = [-0.5, len(closes) - 0.5]
font = dict(family='DejaVu Sans Mono', size=10, color=TEXT)


def x_axis(anchor, labels):
    return dict(domain=x_dom, range=x_range, anchor=anchor, tickvals=month_days, ticktext=month_labels,
                showticklabels=labels, showgrid=True, gridcolor=GRID, gridwidth=1, zeroline=False,
                showline=False, ticks='', tickfont=font, fixedrange=True)


def y_axis(anchor, dom, rng, vals, texts):
    return dict(domain=dom, range=rng, anchor=anchor, side='right', tickvals=vals, ticktext=texts,
                showgrid=True, gridcolor=GRID, gridwidth=1, zeroline=False, showline=False,
                ticks='', ticklabelstandoff=14, tickfont=font, fixedrange=True)


xa = x_axis('y', False)
xa['rangeslider'] = dict(visible=False)

fig.update_layout(
    width=W, height=H,
    margin=dict(l=0, r=0, t=0, b=0),
    paper_bgcolor=BG, plot_bgcolor=BG,
    showlegend=False,
    bargap=0,
    font=font,
    xaxis=xa,
    xaxis2=x_axis('y2', False),
    xaxis3=x_axis('y3', False),
    xaxis4=x_axis('y4', True),
    yaxis=y_axis('x', [py(441), py(22)], [3.5, 14.0], price_ticks, price_labels),
    yaxis2=y_axis('x2', [py(614), py(473)], [0, 2.5], volume_ticks, volume_labels),
    yaxis3=y_axis('x3', [py(787), py(646)], [0, 100], rsi_ticks, rsi_labels),
    yaxis4=y_axis('x4', [py(960), py(818)], [-1.0, 0.75], macd_ticks, macd_labels),
)

shapes = []
# separators between the panels
for y in [450.5, 622.3, 795.7]:
    shapes.append(dict(type='line', xref='paper', yref='paper', x0=0, x1=1, y0=py(y), y1=py(y),
                       line=dict(color='#52528a', width=2)))
# RSI 50 line and MACD zero line
shapes.append(dict(type='line', xref='x3 domain', yref='y3', x0=0, x1=1, y0=50, y1=50,
                   line=dict(color='#88ee33', width=1.5)))
shapes.append(dict(type='line', xref='x4 domain', yref='y4', x0=0, x1=1, y0=0, y1=0,
                   line=dict(color='#f5c040', width=1.5)))

annotations = []


def label(text, x, y, swatch=None, sx=None):
    annotations.append(dict(text=text, x=px(x), y=py(y), xref='paper', yref='paper', xanchor='left',
                            yanchor='middle', showarrow=False, font=font))
    if swatch:
        shapes.append(dict(type='rect', xref='paper', yref='paper', x0=px(sx), x1=px(sx + 11),
                           y0=py(y + 1.5), y1=py(y - 1.5), fillcolor=swatch, line=dict(width=0)))


label('CA:FR Daily', 8, 7.3, UP, 80)
label('Bollinger Bands(20)', 121, 7.3, BAND, 242)
label('SMA(9)', 260, 7.3, SMA9_C, 302)
label('SMA(18)', 321, 7.3, SMA18_C, 369)
label('SMA(27)', 389, 7.3, SMA27_C, 436)
label('2/24/15', 984, 7.3)
label('Volume', 8, 459.3, VOL_C, 50)
label('Relative Strength Index(14)', 8, 632.3, RSI_C, 176)
label('MACD(12,26)', 8, 805.7, MACD_C, 81)
label('MACD EMA(9)', 99, 805.7, EMA_C, 171)
label('Divergence', 190, 805.7, DIV_C, 256)

annotations.append(dict(text='<b>©BigCharts.com</b>', x=px(975), y=py(459), xref='paper', yref='paper',
                        xanchor='right', yanchor='middle', showarrow=False,
                        font=dict(family='DejaVu Sans', size=10, color='#3a3a6c')))
annotations.append(dict(text='Millions', x=px(1022), y=py(545), xref='paper', yref='paper',
                        xanchor='center', yanchor='middle', showarrow=False, textangle=-90, font=font))
annotations.append(dict(text='<b><i>jetScreenshot</i></b>', x=px(1031), y=py(965), xref='paper', yref='paper',
                        xanchor='right', yanchor='middle', showarrow=False,
                        font=dict(family='DejaVu Sans', size=14, color='rgba(200,200,210,0.5)')))

fig.update_layout(shapes=shapes, annotations=annotations)

# fig.show()
# pin the graph to the top-left corner of the page so nothing adds height around it
page_fix = """
document.documentElement.style.margin='0';
document.documentElement.style.padding='0';
document.documentElement.style.overflow='hidden';
document.documentElement.style.height='975px';
document.body.style.margin='0';
document.body.style.padding='0';
document.body.style.overflow='hidden';
document.body.style.height='975px';
var gd = document.getElementById('{plot_id}');
gd.style.position='absolute';
gd.style.left='0px';
gd.style.top='0px';
"""
fig.write_html("out.html", config={'displayModeBar': False}, post_script=[page_fix])
